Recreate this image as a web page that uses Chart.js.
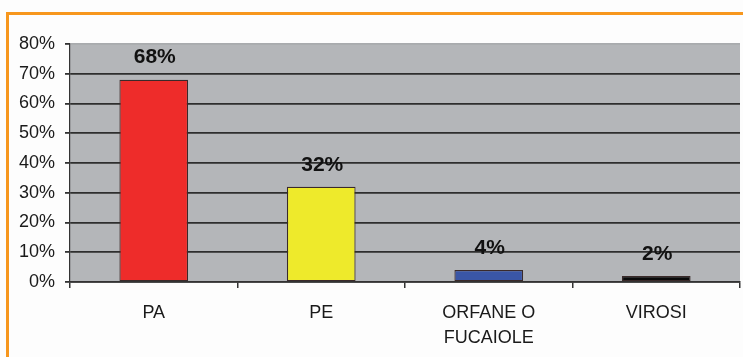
<!DOCTYPE html>
<html>
<head>
<meta charset="utf-8">
<script src="https://cdn.jsdelivr.net/npm/chart.js@4/dist/chart.umd.min.js"></script>
<style>
  html, body { margin: 0; padding: 0; background: #fdfdfd; }
  #wrap { position: relative; width: 743px; height: 357px; overflow: hidden; }
  /* cornice arancione della tavola */
  #frame {
    position: absolute; left: 6px; top: 12px; width: 760px; height: 380px;
    border-top: 3px solid #f7971e; border-left: 3px solid #f7971e;
    box-sizing: border-box;
  }
  canvas { position: absolute; left: 0; top: 0; }
</style>
</head>
<body>
<div id="wrap">
  <div id="frame"></div>
  <canvas id="chart" width="743" height="357"></canvas>
</div>
<script>
// Categorie e percentuali
const CATEGORIE = ["PA", "PE", ["ORFANE O", "FUCAIOLE"], "VIROSI"];
const PERCENTUALI = [68, 32, 4, 2];
const COLORI = ["#ee2c2a", "#eeea2b", "#3a56a6", "#0a0a0a"];
const Y_MAX = 80;
const Y_PASSO = 10;

const FONT = "'Liberation Sans', Arial, sans-serif";

// sfondo grigio dell'area del grafico
const sfondoArea = {
  id: "sfondoArea",
  beforeDraw(chart) {
    const { ctx, chartArea: a } = chart;
    ctx.save();
    ctx.fillStyle = "#b4b6b9";
    ctx.fillRect(a.left, a.top, a.right - a.left, a.bottom - a.top);
    ctx.restore();
  },
};

// etichette con il valore sopra ogni barra
const etichetteValori = {
  id: "etichetteValori",
  afterDatasetsDraw(chart) {
    const { ctx } = chart;
    const meta = chart.getDatasetMeta(0);
    ctx.save();
    ctx.font = `bold 21px ${FONT}`;
    ctx.fillStyle = "#111";
    ctx.textAlign = "center";
    ctx.textBaseline = "middle";
    meta.data.forEach((bar, i) => {
      ctx.fillText(PERCENTUALI[i] + "%", bar.x + 1, bar.y - 22);
    });
    ctx.restore();
  },
};

new Chart(document.getElementById("chart"), {
  type: "bar",
  data: {
    labels: CATEGORIE,
    datasets: [{
      data: PERCENTUALI,
      backgroundColor: COLORI,
      borderColor: "#3a2a2a",
      borderWidth: 1.2,
      borderSkipped: false,
      barPercentage: 0.41,
      categoryPercentage: 1,
    }],
  },
  options: {
    responsive: false,
    animation: false,
    layout: { padding: { top: 44, right: 3, left: 0, bottom: 0 } },
    plugins: { legend: { display: false }, tooltip: { enabled: false } },
    scales: {
      x: {
        afterFit: (s) => { s.height = 75; },
        grid: {
          drawOnChartArea: false,
          drawTicks: true,
          tickLength: 6,
          color: "#333",
          lineWidth: 1.5,
        },
        border: { display: true, color: "#333", width: 1.5 },
        ticks: {
          padding: 12,
          color: "#1a1a1a",
          font: { family: FONT, size: 18, lineHeight: 1.4 },
        },
      },
      y: {
        min: 0,
        max: Y_MAX,
        afterFit: (s) => { s.width = 70; },
        grid: {
          color: (c) => (c.tick && c.tick.value === Y_MAX ? "#a9abae" : "#2e2e2e"),
          lineWidth: 1.8,
          tickLength: 5,
          tickColor: "#333",
        },
        border: { display: true, color: "#333", width: 1.2 },
        ticks: {
          stepSize: Y_PASSO,
          padding: 10,
          color: "#1a1a1a",
          font: { family: FONT, size: 18 },
          callback: (v) => v + "%",
        },
      },
    },
  },
  plugins: [sfondoArea, etichetteValori],
});
</script>
</body>
</html>
